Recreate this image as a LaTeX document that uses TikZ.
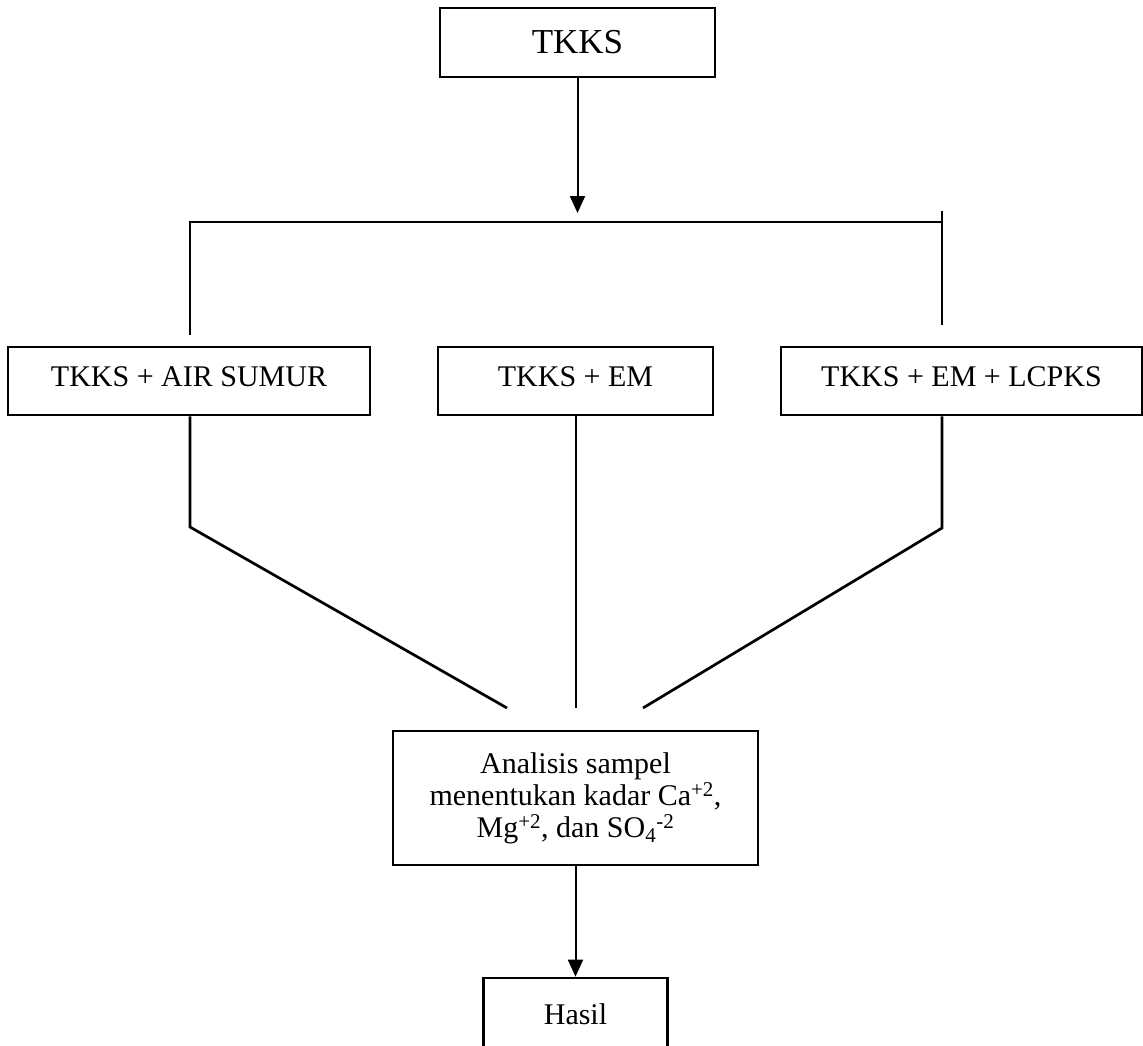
\documentclass[tikz,border=0pt]{standalone}
\usepackage{fontspec}
\setmainfont{Liberation Serif}
\usetikzlibrary{arrows.meta}
\begin{document}
\begin{tikzpicture}[x=1pt,y=-1pt,
  box/.style={draw,line width=2.7pt,inner sep=0pt,font=\fontsize{30}{32}\selectfont},
  midbox/.style={box,minimum height=68pt,text height=20pt,text depth=10pt},
  conn/.style={line width=2.7pt},
  arr/.style={line width=2pt,-{Triangle[width=15pt,length=17pt]}}]
\useasboundingbox (0,0) rectangle (1143,1045);

% nodes
\node[box,minimum width=275pt,minimum height=69pt,font=\fontsize{35}{38}\selectfont] (tkks) at (577.5,42.5) {TKKS};
\node[midbox,minimum width=362pt] (air) at (189,381) {TKKS + AIR SUMUR};
\node[midbox,minimum width=275pt] (em) at (575.5,381) {TKKS + EM};
\node[midbox,minimum width=361pt] (lcpks) at (961.5,381) {TKKS + EM + LCPKS};
\node[box,minimum width=365pt,minimum height=134pt,align=center] (ana) at (575.5,798)
  {Analisis sampel\\menentukan kadar Ca\textsuperscript{+2},\\Mg\textsuperscript{+2}, dan SO\textsubscript{4}\textsuperscript{-2}};
\node[box,minimum width=184pt,minimum height=72pt] (hasil) at (575.5,1014) {Hasil};

% bus coordinates
\coordinate (busL) at (190,222);
\coordinate (busR) at (942,222);
\coordinate (busRtop) at (942,211);
\coordinate (legL) at (190,335);
\coordinate (legR) at (942,325);
\coordinate (tip) at (577.5,213);
\coordinate (kL) at (190,527);
\coordinate (kR) at (942,528);
\coordinate (jL) at (507,708);
\coordinate (jM) at (576,708);
\coordinate (jR) at (643,708);

% connectors
\draw[arr] (tkks.south) -- (tip);
\draw[conn] (legL) -- (busL) -- (busR);
\draw[conn] (busRtop) -- (legR);
\draw[conn] (air.south -| kL) -- (kL) -- (jL);
\draw[conn] (em.south -| jM) -- (jM);
\draw[conn] (lcpks.south -| kR) -- (kR) -- (jR);
\draw[arr] (ana.south) -- (hasil.north);
\end{tikzpicture}
\end{document}
